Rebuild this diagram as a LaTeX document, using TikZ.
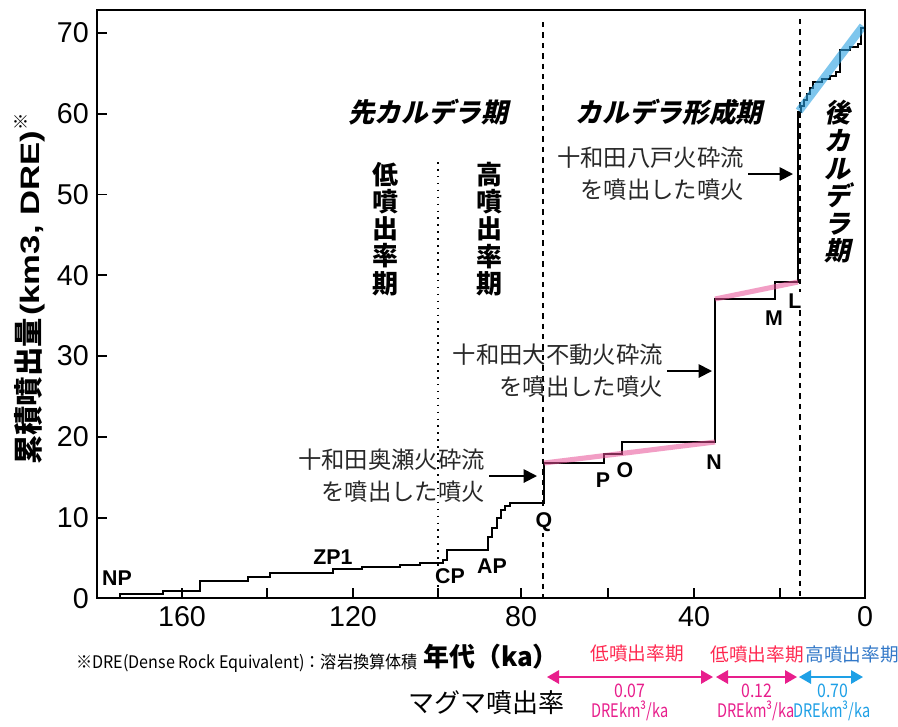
\documentclass[tikz,border=0pt]{standalone}
\usepackage{fontspec}
\usepackage{graphicx}
\setmainfont{Liberation Sans}
\newfontfamily\jp{Noto Sans CJK JP}
\newfontfamily\jpsl{Noto Sans CJK JP}[FakeSlant=0.22]
\usetikzlibrary{arrows.meta}
\definecolor{pinkband}{RGB}{232,80,150}
\definecolor{blueband}{RGB}{40,160,225}
\definecolor{rateMag}{RGB}{232,30,140}
\definecolor{rateRed}{RGB}{255,40,80}
\definecolor{rateBlue}{RGB}{30,160,230}
\definecolor{rateBlueT}{RGB}{50,120,200}
\definecolor{annotc}{RGB}{40,40,40}
\begin{document}
\begin{tikzpicture}[x=0.75pt,y=-0.75pt,
  every node/.style={inner sep=0pt},
  axisframe/.style={line width=1.5pt},
  tickline/.style={line width=1.3pt},
  ticklab/.style={font=\fontsize{21.5pt}{24pt}\selectfont},
  evlab/.style={font=\bfseries\fontsize{16pt}{18pt}\selectfont, fill=white, inner sep=1pt},
  stepcurve/.style={line width=1.6pt, line join=miter},
  dashline/.style={line width=1.3pt, dash pattern=on 4pt off 3.8pt},
  dotline/.style={line width=1.6pt, dash pattern=on 1.2pt off 4pt},
  phase/.style={font=\jpsl\bfseries\fontsize{20pt}{22pt}\selectfont},
  vphase/.style={align=center, font=\jpsl\bfseries\fontsize{19.5pt}{20.7pt}\selectfont},
  vrate/.style={align=center, font=\jp\bfseries\fontsize{19.5pt}{20.4pt}\selectfont},
  annot/.style={align=right, text=annotc, font=\jp\fontsize{17.5pt}{24pt}\selectfont},
  annarrow/.style={line width=1.4pt, -{Triangle[length=10pt,width=10pt]}},
  pinkline/.style={draw=pinkband, line width=3.8pt, opacity=0.55},
  blueline/.style={draw=blueband, line width=6pt, opacity=0.6},
  ratearrow/.style={line width=1.5pt, draw=#1, {Triangle[length=9pt,width=10pt]}-{Triangle[length=9pt,width=10pt]}},
  ratehead/.style={font=\jp\fontsize{14pt}{16pt}\selectfont},
  rateval/.style={font=\jp\fontsize{14pt}{16pt}\selectfont},
  rateunit/.style={font=\jp\fontsize{14pt}{16pt}\selectfont},
]
\useasboundingbox (0,0) rectangle (898,726);
\fill[white] (0,0) rectangle (898,726);

% period boundary lines
\draw[dotline] (438,162) -- (438,598);
\draw[dashline] (543,22) -- (543,598);
\draw[dashline] (800,19) -- (800,598);

% cumulative curve
\draw[stepcurve] (120,598) -- (120,594) -- (163,594) -- (163,591) -- (200,591) -- (200,581)
 -- (248,581) -- (248,577) -- (270,577) -- (270,573) -- (333,573) -- (333,569)
 -- (362,569) -- (362,567) -- (400,567) -- (400,565) -- (420,565) -- (420,563)
 -- (443,563) -- (443,560) -- (447,560) -- (447,550) -- (488,550) -- (488,537)
 -- (492,537) -- (492,528) -- (497,528) -- (497,518) -- (501,518) -- (501,510)
 -- (505,510) -- (505,506) -- (510,506) -- (510,503) -- (544,503) -- (544,463)
 -- (604,463) -- (604,454) -- (622,454) -- (622,442) -- (715,442) -- (715,299)
 -- (775,299) -- (775,282) -- (798,282) -- (798,112) -- (801,112) -- (801,106)
 -- (804,106) -- (804,100) -- (807,100) -- (807,94) -- (810,94) -- (810,88)
 -- (813,88) -- (813,82) -- (822,82) -- (822,79) -- (830,79) -- (830,76)
 -- (836,76) -- (836,72) -- (840,72) -- (840,50) -- (850,50) -- (850,47)
 -- (858,47) -- (858,44) -- (861,44) -- (861,28) -- (865,28);

% rate bands
\draw[pinkline] (544,463) -- (715,442);
\draw[pinkline] (715,299) -- (798,282);
\draw[blueline] (799,111) -- (863,26);

% frame and ticks
\draw[axisframe] (97,10) rectangle (865,598);
\foreach \yy in {517.7,436.9,356.1,275.3,194.5,113.7,32.9}
  \draw[tickline] (97,\yy) -- (107,\yy);
\foreach \xx in {182,267,353,438,521,608,694,780}
  \draw[tickline] (\xx,598) -- (\xx,588);
\foreach \v/\yy in {0/599,10/517.7,20/436.9,30/356.1,40/275.3,50/194.5,60/113.7,70/32.9}
  \node[ticklab, anchor=east] (yl\v) at (89,\yy) {\v};
\foreach \a/\xx in {160/182,120/353,80/521,40/694,0/865}
  \node[ticklab] (xl\a) at (\xx,617) {\a};

% event labels
\node[evlab] (NP) at (117,578) {NP};
\node[evlab] (ZP1) at (333,557) {ZP1};
\node[evlab] (CP) at (450,576) {CP};
\node[evlab] (AP) at (492,566) {AP};
\node[evlab] (Q) at (544,522) {Q};
\node[evlab] (P) at (603,480) {P};
\node[evlab] (O) at (625,470) {O};
\node[evlab] (N) at (714,462) {N};
\node[evlab] (M) at (774,318) {M};
\node[evlab] (L) at (795,301) {L};

% period labels
\node[phase] (pre) at (428,112) {先カルデラ期};
\node[phase] (syn) at (669,112) {カルデラ形成期};
\node[vphase] (post) at (837,182) {後\\カ\\ル\\デ\\ラ\\期};
\node[vrate] (lowr) at (385,229) {低\\噴\\出\\率\\期};
\node[vrate] (highr) at (489,229) {高\\噴\\出\\率\\期};

% annotations
\node[annot, anchor=east] (hach) at (744,174) {十和田八戸火砕流\\を噴出した噴火};
\coordinate (hachTip) at (793,174);
\draw[annarrow] ([xshift=3pt]hach.east) -- (hachTip);
\node[annot, anchor=east] (fudo) at (663,371) {十和田大不動火砕流\\を噴出した噴火};
\coordinate (fudoTip) at (712,371);
\draw[annarrow] ([xshift=3pt]fudo.east) -- (fudoTip);
\node[annot, anchor=east] (okse) at (485,476) {十和田奥瀬火砕流\\を噴出した噴火};
\coordinate (okseTip) at (537,476);
\draw[annarrow] ([xshift=3pt]okse.east) -- (okseTip);

% axis titles
\node[rotate=90, anchor=west] (ytitle) at (30,465)
  {{\jp\bfseries\fontsize{22pt}{24pt}\selectfont 累積噴出量}\,\scalebox{1.3}[1]{\bfseries\fontsize{20pt}{22pt}\selectfont (km3, DRE)}\raisebox{9pt}{\jp\fontsize{13pt}{14pt}\selectfont ※}};
\node[font=\jp\bfseries\fontsize{19.5pt}{22pt}\selectfont] (xtitle) at (491,657) {年代（ka）};
\node[font=\jp\fontsize{13pt}{15pt}\selectfont] (note) at (247,663) {\scalebox{0.93}[1]{※DRE(Dense Rock Equivalent)：溶岩換算体積}};
\node[font=\jp\fontsize{19.5pt}{22pt}\selectfont] (magma) at (486,703) {マグマ噴出率};

% eruption rate arrows
\coordinate (r1a) at (547,677); \coordinate (r1b) at (713,677);
\coordinate (r2a) at (716,677); \coordinate (r2b) at (797,677);
\coordinate (r3a) at (799,677); \coordinate (r3b) at (863,677);
\draw[ratearrow=rateMag] (r1a) -- (r1b);
\draw[ratearrow=rateMag] (r2a) -- (r2b);
\draw[ratearrow=rateBlue] (r3a) -- (r3b);
\node[ratehead, text=rateRed] (h1) at (637,653) {低噴出率期};
\node[ratehead, text=rateRed] (h2) at (757,654) {低噴出率期};
\node[ratehead, text=rateBlueT] (h3) at (852,654) {高噴出率期};
\node[rateval, text=rateMag] (v1) at (630,691) {\scalebox{0.85}[1]{0.07}};
\node[rateval, text=rateMag] (v2) at (757,691) {\scalebox{0.85}[1]{0.12}};
\node[rateval, text=rateBlue] (v3) at (833,691) {\scalebox{0.85}[1]{0.70}};
\node[rateunit, text=rateMag] (u1) at (630,711) {\scalebox{0.78}[1]{DREkm³/ka}};
\node[rateunit, text=rateMag] (u2) at (756,711) {\scalebox{0.78}[1]{DREkm³/ka}};
\node[rateunit, text=rateBlue] (u3) at (832,711) {\scalebox{0.78}[1]{DREkm³/ka}};
\end{tikzpicture}
\end{document}
